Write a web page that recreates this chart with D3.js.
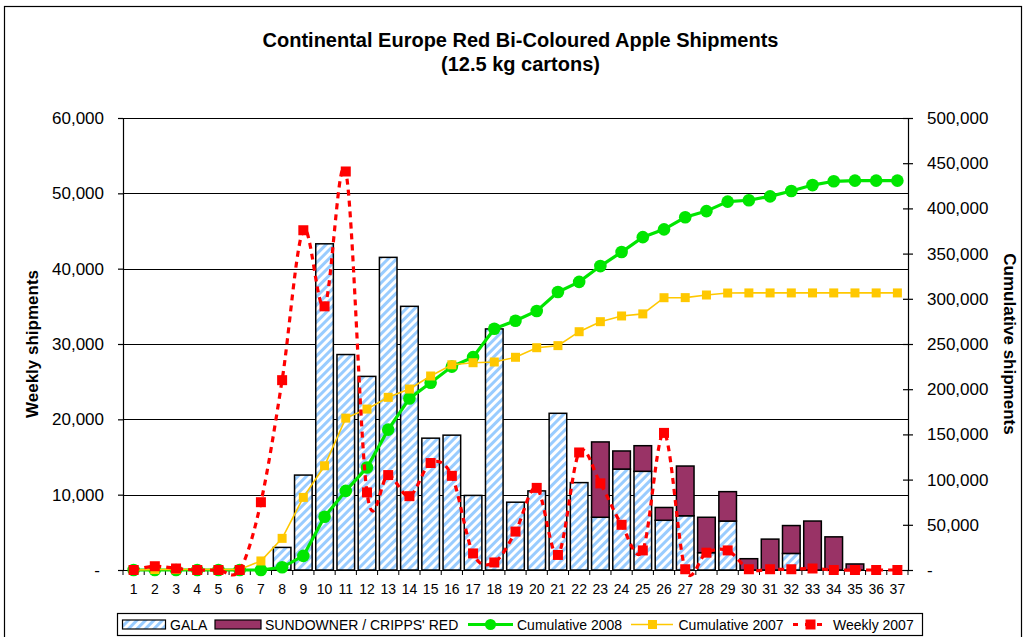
<!DOCTYPE html>
<html>
<head>
<meta charset="utf-8">
<script src="https://cdn.jsdelivr.net/npm/d3@7"></script>
<style>
  html, body { margin: 0; padding: 0; background: #fff; }
  svg { display: block; font-family: "Liberation Sans", Arial, sans-serif; }
</style>
</head>
<body>
<svg id="chart" width="1028" height="637"></svg>
<script>
const weeks = [1,2,3,4,5,6,7,8,9,10,11,12,13,14,15,16,17,18,19,20,21,22,23,24,25,26,27,28,29,30,31,32,33,34,35,36,37];
const gala = [0,0,0,0,0,0,0,3000,12600,43300,28600,25700,41500,35000,17500,17900,9900,32000,9000,10500,20800,11600,7000,13400,13100,6600,7200,2300,6500,0,0,2200,0,0,0,0,0];
const sundowner = [0,0,0,0,0,0,0,0,0,0,0,0,0,0,0,0,0,0,0,0,0,0,10000,2400,3400,1700,6600,4700,3900,1500,4100,3700,6500,4400,800,0,0];
const cumulative2008 = [0,0,0,0,0,0,0,3000,15600,58900,87500,113400,155300,189800,207200,225000,235500,266800,275800,286500,307500,318700,336200,351700,368200,376800,390200,397000,407500,409000,413300,419200,425800,430000,430700,430700,430700];
const cumulative2007 = [0,500,500,500,500,500,10000,35000,80300,115300,168000,178000,191000,200200,214600,227000,229300,230100,235300,245900,248200,263600,274700,281000,283300,301200,301300,304200,306400,306500,306500,306500,306500,306500,306500,306500,306500];
const weekly2007 = [0,500,200,0,0,0,9000,25200,45100,35000,52900,10300,12600,9800,14200,12500,2200,1000,5100,10900,2000,15600,11500,6000,2600,18200,100,2300,2600,100,100,100,200,0,0,0,0];
const leftTicks = [0,10000,20000,30000,40000,50000,60000];
const rightTicks = [0,50000,100000,150000,200000,250000,300000,350000,400000,450000,500000];
const seriesNames = ["GALA", "SUNDOWNER / CRIPPS' RED", "Cumulative 2008", "Cumulative 2007", "Weekly 2007"];

const svg = d3.select("#chart");
const L = 123, R = 908, T = 118, B = 570;

// outer border
svg.append("rect").attr("x", 4.5).attr("y", 6.5).attr("width", 1017).attr("height", 640)
  .attr("fill", "none").attr("stroke", "#000").attr("stroke-width", 1.2);

// pattern
const defs = svg.append("defs");
const pat = defs.append("pattern").attr("id", "gala").attr("patternUnits", "userSpaceOnUse")
  .attr("width", 6).attr("height", 6).attr("patternTransform", "rotate(45)");
pat.append("rect").attr("width", 6).attr("height", 6).attr("fill", "#fff");
pat.append("rect").attr("width", 3).attr("height", 6).attr("fill", "#99CCFF");

const x = d3.scaleBand().domain(weeks).range([L, R]).paddingInner(0.17).paddingOuter(0.085);
const step = x.step();
const cx = d => x(d) + x.bandwidth() / 2;
const yL = d3.scaleLinear().domain([0, 60000]).range([B, T]);
const yR = d3.scaleLinear().domain([0, 500000]).range([B, T]);

// title
svg.append("text").attr("x", 520.5).attr("y", 47).attr("text-anchor", "middle")
  .attr("font-weight", "bold").attr("font-size", 20).text("Continental Europe Red Bi-Coloured Apple Shipments");
svg.append("text").attr("x", 520.5).attr("y", 71).attr("text-anchor", "middle")
  .attr("font-weight", "bold").attr("font-size", 20).text("(12.5 kg cartons)");

// gridlines
svg.append("g").selectAll("line").data(leftTicks.filter(d => d > 0)).join("line")
  .attr("x1", L).attr("x2", R).attr("y1", d => Math.round(yL(d)) + 0.5).attr("y2", d => Math.round(yL(d)) + 0.5)
  .attr("stroke", "#000").attr("stroke-width", 1);

// bars
const barG = svg.append("g");
barG.selectAll("rect.g").data(weeks.map((w, i) => ({w, v: gala[i]})).filter(d => d.v > 0)).join("rect")
  .attr("x", d => x(d.w)).attr("width", x.bandwidth())
  .attr("y", d => yL(d.v)).attr("height", d => yL(0) - yL(d.v))
  .attr("fill", "url(#gala)").attr("stroke", "#000").attr("stroke-width", 1.5);
barG.selectAll("rect.s").data(weeks.map((w, i) => ({w, g: gala[i], v: sundowner[i]})).filter(d => d.v > 0)).join("rect")
  .attr("x", d => x(d.w)).attr("width", x.bandwidth())
  .attr("y", d => yL(d.g + d.v)).attr("height", d => yL(d.g) - yL(d.g + d.v))
  .attr("fill", "#993366").attr("stroke", "#000").attr("stroke-width", 1.5);

// axes
const fmt = d => d === 0 ? "-" : d3.format(",")(d);
const axL = svg.append("g").attr("transform", `translate(${L},0)`)
  .call(d3.axisLeft(yL).tickValues(leftTicks).tickFormat(fmt).tickSize(5).tickSizeOuter(0).tickPadding(14));
const axR = svg.append("g").attr("transform", `translate(${R},0)`)
  .call(d3.axisRight(yR).tickValues(rightTicks).tickFormat(fmt).tickSize(5).tickSizeOuter(0).tickPadding(14));
axR.selectAll(".tick line").attr("x1", -5);
const axB = svg.append("g").attr("transform", `translate(0,${B})`)
  .call(d3.axisBottom(x).tickSize(0).tickSizeOuter(0).tickPadding(14));
axB.select(".domain").attr("d", `M${L},0.5H${R}`);
axB.append("g").selectAll("line").data(d3.range(weeks.length + 1)).join("line")
  .attr("x1", i => L + i * step).attr("x2", i => L + i * step).attr("y1", 0).attr("y2", 5)
  .attr("stroke", "#000");
[axL, axR].forEach(a => { a.selectAll("text").attr("font-size", 17).attr("fill", "#000").attr("font-family", "Liberation Sans, Arial, sans-serif"); });
axB.selectAll("text").attr("font-size", 14).attr("fill", "#000").attr("font-family", "Liberation Sans, Arial, sans-serif");
svg.selectAll(".domain, .tick line").attr("stroke", "#000").attr("stroke-width", 1.2);
axL.selectAll(".tick text").filter(d => d === 0).attr("dx", -4);

// axis titles
svg.append("text").attr("transform", "translate(38,344) rotate(-90)").attr("text-anchor", "middle")
  .attr("font-weight", "bold").attr("font-size", 17).text("Weekly shipments");
svg.append("text").attr("transform", "translate(1004,344) rotate(90)").attr("text-anchor", "middle")
  .attr("font-weight", "bold").attr("font-size", 17).text("Cumulative shipments");

// lines
const green = "#00E600", gold = "#FFC800", red = "#FF0000";
const c08 = weeks.map((w, i) => ({w, v: cumulative2008[i]}));
const c07 = weeks.map((w, i) => ({w, v: cumulative2007[i]}));
const w07 = weeks.map((w, i) => ({w, v: weekly2007[i]}));

svg.append("path").datum(c08).attr("fill", "none").attr("stroke", green).attr("stroke-width", 3.2)
  .attr("d", d3.line().x(d => cx(d.w)).y(d => yR(d.v)));
svg.append("g").selectAll("circle").data(c08).join("circle")
  .attr("cx", d => cx(d.w)).attr("cy", d => yR(d.v)).attr("r", 6.3).attr("fill", green);

svg.append("path").datum(c07).attr("fill", "none").attr("stroke", gold).attr("stroke-width", 1.6)
  .attr("d", d3.line().x(d => cx(d.w)).y(d => yR(d.v)));
svg.append("g").selectAll("rect").data(c07).join("rect")
  .attr("x", d => cx(d.w) - 4.5).attr("y", d => yR(d.v) - 4.5).attr("width", 9).attr("height", 9).attr("fill", gold);

svg.append("path").datum(w07).attr("fill", "none").attr("stroke", red).attr("stroke-width", 3.2)
  .attr("stroke-dasharray", "6,5")
  .attr("d", d3.line().x(d => cx(d.w)).y(d => yL(d.v)).curve(d3.curveCatmullRom.alpha(0)));
svg.append("g").selectAll("rect").data(w07).join("rect")
  .attr("x", d => cx(d.w) - 5).attr("y", d => yL(d.v) - 5).attr("width", 10).attr("height", 10).attr("fill", red);

// legend
const lg = svg.append("g");
lg.append("rect").attr("x", 117.5).attr("y", 613.5).attr("width", 805).attr("height", 22)
  .attr("fill", "#fff").attr("stroke", "#000").attr("stroke-width", 1.2);
const ly = 624.5, lty = 629.5;
lg.append("rect").attr("x", 122.5).attr("y", 620).attr("width", 43).attr("height", 9)
  .attr("fill", "url(#gala)").attr("stroke", "#000").attr("stroke-width", 1.2);
lg.append("text").attr("x", 170).attr("y", lty).attr("font-size", 14).text(seriesNames[0]);
lg.append("rect").attr("x", 215).attr("y", 620).attr("width", 46).attr("height", 9)
  .attr("fill", "#993366").attr("stroke", "#000").attr("stroke-width", 1.2);
lg.append("text").attr("x", 265).attr("y", lty).attr("font-size", 14).text(seriesNames[1]);
lg.append("line").attr("x1", 468).attr("x2", 513).attr("y1", ly).attr("y2", ly).attr("stroke", green).attr("stroke-width", 3.2);
lg.append("circle").attr("cx", 490.5).attr("cy", ly).attr("r", 5.5).attr("fill", green);
lg.append("text").attr("x", 517).attr("y", lty).attr("font-size", 14).text(seriesNames[2]);
lg.append("line").attr("x1", 631).attr("x2", 673).attr("y1", ly).attr("y2", ly).attr("stroke", gold).attr("stroke-width", 1.6);
lg.append("rect").attr("x", 648).attr("y", ly - 4.5).attr("width", 9).attr("height", 9).attr("fill", gold);
lg.append("text").attr("x", 678.5).attr("y", lty).attr("font-size", 14).text(seriesNames[3]);
lg.append("line").attr("x1", 793).attr("x2", 828).attr("y1", ly).attr("y2", ly).attr("stroke", red).attr("stroke-width", 3.2).attr("stroke-dasharray", "5,7");
lg.append("rect").attr("x", 805.5).attr("y", ly - 5).attr("width", 10).attr("height", 10).attr("fill", red);
lg.append("text").attr("x", 833).attr("y", lty).attr("font-size", 14).text(seriesNames[4]);
</script>
</body>
</html>
